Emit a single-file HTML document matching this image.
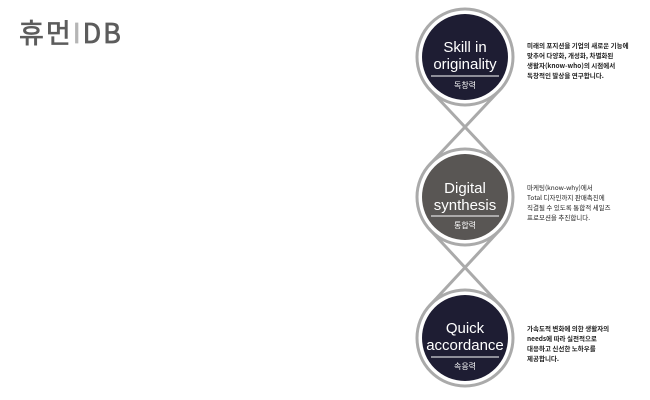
<!DOCTYPE html>
<html><head><meta charset="utf-8"><style>
body{margin:0;width:650px;height:400px;background:#fff;overflow:hidden;position:relative;font-family:"Liberation Sans","Noto Sans CJK KR",sans-serif}
.logo{position:absolute;left:19px;top:12px;font-size:27px;font-weight:normal;-webkit-text-stroke:0.7px #5c5c5c;color:#5c5c5c;letter-spacing:2px;font-family:"Noto Sans CJK KR","Liberation Sans",sans-serif}
.d{position:absolute;left:527px;font-size:6.5px;line-height:10px;color:#222;font-family:"Noto Sans CJK KR",sans-serif;font-weight:bold;white-space:nowrap}
</style></head><body>
<div class="logo">휴먼<span style="color:#b5b5b5;-webkit-text-stroke:0.7px #b5b5b5">I</span>DB</div>
<svg width="650" height="400" style="position:absolute;left:0;top:0">
<g stroke="#aaa" stroke-width="3" fill="none">
<circle cx="465" cy="57" r="48"/>
<circle cx="465" cy="197" r="48"/>
<circle cx="465" cy="338" r="48"/>
<line x1="428.8" y1="88.5" x2="501.2" y2="165.5"/>
<line x1="501.2" y1="88.5" x2="428.8" y2="165.5"/>
<line x1="428.8" y1="228.5" x2="501.2" y2="306.5"/>
<line x1="501.2" y1="228.5" x2="428.8" y2="306.5"/>
</g>
<circle cx="465" cy="57" r="43" fill="#1e1d33"/>
<circle cx="465" cy="197" r="43" fill="#595654"/>
<circle cx="465" cy="338" r="43" fill="#1e1d33"/>
<g fill="#fff" font-family="Liberation Sans,sans-serif" font-size="15" text-anchor="middle">
<text x="465" y="52">Skill in</text><text x="465" y="69">originality</text>
<text x="465" y="193">Digital</text><text x="465" y="210">synthesis</text>
<text x="465" y="333">Quick</text><text x="465" y="350">accordance</text>
</g>
<g stroke="#fff" stroke-width="1"><line x1="431" y1="76" x2="499" y2="76"/><line x1="431" y1="216" x2="499" y2="216"/><line x1="431" y1="357" x2="499" y2="357"/></g>
<g fill="#fff" font-family="Noto Sans CJK KR,sans-serif" font-size="8" text-anchor="middle">
<text x="465" y="88">독창력</text><text x="465" y="228">통합력</text><text x="465" y="369">속응력</text>
</g>
</svg>
<div class="d" style="top:40px">미래의 포지션을 기업의 새로운 기능에<br>맞추어 다양화, 개성화, 차별화된<br>생활자(know-who)의 시점에서<br>독창적인 발상을 연구합니다.</div>
<div class="d" style="top:182px;font-weight:normal">마케팅(know-why)에서<br>Total 디자인까지 판매촉진에<br>직결될 수 있도록 통합적 세일즈<br>프로모션을 추진합니다.</div>
<div class="d" style="top:323px">가속도적 변화에 의한 생활자의<br>needs에 따라 실전적으로<br>대응하고 신선한 노하우를<br>제공합니다.</div>
</body></html>
